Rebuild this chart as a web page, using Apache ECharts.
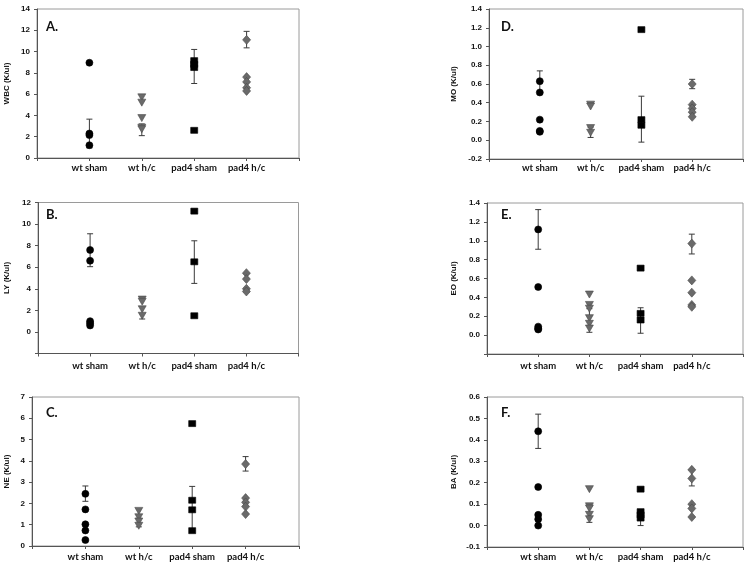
<!DOCTYPE html>
<html><head><meta charset="utf-8">
<script src="https://cdn.jsdelivr.net/npm/echarts@6/dist/echarts.min.js"></script>
<style>html,body{margin:0;padding:0;background:#fff}#c{width:750px;height:564px}</style>
</head><body><div id="c"></div>
<script>
// ---- data ----
const groups = ['wt sham', 'wt h/c', 'pad4 sham', 'pad4 h/c'];
const panelLetters = ['A.', 'B.', 'C.', 'D.', 'E.', 'F.'];
const yTitles = ['WBC (K/ul)', 'LY (K/ul)', 'NE (K/ul)', 'MO (K/ul)', 'EO (K/ul)', 'BA (K/ul)'];

const WBC = [[8.95, 2.3, 2.15, 1.2], [5.7, 5.2, 3.75, 2.85, 2.7], [9.15, 8.8, 8.5, 2.6], [11.1, 7.6, 7.15, 6.6, 6.3]];
const WBC_err = [[0.95, 3.65], [2.1, 3.2], [7.0, 10.2], [10.35, 11.9]];

const LY = [[7.6, 6.6, 1.0, 0.8, 0.6], [3.0, 2.8, 2.1, 1.5], [11.2, 6.5, 1.5], [5.45, 4.9, 4.0, 3.75]];
const LY_err = [[6.05, 9.1], [1.2, 1.7], [4.5, 8.45], [3.7, 4.0]];

const NE = [[2.45, 1.72, 1.02, 0.73, 0.28], [1.65, 1.35, 1.15, 0.95], [5.75, 2.15, 1.7, 0.72], [3.85, 2.25, 2.05, 1.85, 1.5]];
const NE_err = [[2.1, 2.82], [0.9, 1.3], [0.72, 2.8], [3.52, 4.2]];

const MO = [[0.63, 0.51, 0.22, 0.1, 0.09], [0.38, 0.36, 0.13, 0.08], [1.18, 0.22, 0.16], [0.6, 0.38, 0.34, 0.3, 0.25]];
const MO_err = [[0.52, 0.74], [0.03, 0.14], [-0.02, 0.47], [0.55, 0.65]];

const EO = [[1.12, 0.51, 0.09, 0.07, 0.06], [0.43, 0.32, 0.28, 0.18, 0.12, 0.07], [0.71, 0.23, 0.16], [0.97, 0.58, 0.45, 0.32, 0.3]];
const EO_err = [[0.91, 1.33], [0.03, 0.28], [0.02, 0.29], [0.86, 1.07]];

const BA = [[0.44, 0.18, 0.05, 0.03, 0.0], [0.17, 0.09, 0.08, 0.05, 0.03], [0.17, 0.065, 0.05, 0.035], [0.26, 0.22, 0.1, 0.08, 0.04]];
const BA_err = [[0.36, 0.52], [0.015, 0.09], [0.0, 0.06], [0.185, 0.26]];

// y-axis ranges [min, max, interval, hiddenMinLabel, decimals]
const yRanges = [[0, 14, 2, false, 0], [-2, 12, 2, true, 0], [0, 7, 1, false, 0],
                 [-0.2, 1.4, 0.2, false, 1], [-0.2, 1.4, 0.2, true, 1], [-0.1, 0.6, 0.1, false, 1]];

const panelValues = [WBC, LY, NE, MO, EO, BA];
const panelErrors = [WBC_err, LY_err, NE_err, MO_err, EO_err, BA_err];

// ---- layout / style (not data) ----
const grids = [
  {left: 37, top: 9, width: 262, height: 149},
  {left: 38, top: 202.5, width: 260.5, height: 151},
  {left: 32, top: 397, width: 267, height: 149},
  {left: 489, top: 9, width: 254, height: 150},
  {left: 487, top: 203, width: 256, height: 151},
  {left: 487, top: 397, width: 256, height: 150}
];
const letterPos = [[46, 20], [46, 208], [46, 406.5], [501, 20], [501, 208], [501, 406.5]];
const xLabelMargin = [4.5, 7, 5.5, 4, 7, 5];
const nameGaps = [26, 27, 21, 31, 29, 29];
const GRAY = '#6a6a6a';
const symbolStyles = [
  {symbol: 'circle', size: 7, rotate: 0, color: '#000'},
  {symbol: 'triangle', size: [8, 7], rotate: 180, color: GRAY},
  {symbol: 'rect', size: [7, 6], rotate: 0, color: '#000'},
  {symbol: 'diamond', size: [8, 9], rotate: 0, color: GRAY}
];
const xCats = [''].concat(groups, ['']);

const option = {
  animation: false,
  backgroundColor: '#fff',
  grid: [], xAxis: [], yAxis: [], series: [], title: []
};

grids.forEach((g, i) => {
  option.grid.push(Object.assign({show: true, borderColor: '#9a9a9a', borderWidth: 1, backgroundColor: 'transparent'}, g));
  option.title.push({
    text: panelLetters[i], left: letterPos[i][0], top: letterPos[i][1], padding: 0,
    textStyle: {fontFamily: 'Lato', fontWeight: 'bold', fontSize: 13, color: '#111'}
  });
  option.xAxis.push({
    type: 'category', gridIndex: i, data: xCats, boundaryGap: false,
    axisLine: {onZero: false, lineStyle: {color: '#555', width: 1}},
    axisTick: {show: true, length: 3, lineStyle: {color: '#555'}},
    axisLabel: {show: true, interval: 0, margin: xLabelMargin[i], fontFamily: 'Lato', fontWeight: 'bold', fontSize: 9.5, color: '#111'},
    splitLine: {show: false}
  });
  const r = yRanges[i];
  option.yAxis.push({
    type: 'value', gridIndex: i, min: r[0], max: r[1], interval: r[2],
    name: yTitles[i], nameLocation: 'middle', nameGap: nameGaps[i],
    nameTextStyle: {fontFamily: 'Liberation Sans', fontWeight: 'bold', fontSize: 8, color: '#111'},
    axisLine: {show: true, onZero: false, lineStyle: {color: '#555', width: 1}},
    axisTick: {show: true, length: 3, lineStyle: {color: '#555'}},
    axisLabel: {
      margin: 7, fontFamily: 'Liberation Sans', fontWeight: 'bold', fontSize: 8, color: '#111',
      formatter: v => (r[3] && Math.abs(v - r[0]) < 1e-9) ? '' : Number(v).toFixed(r[4])
    },
    splitLine: {show: false}
  });
  // error bars
  option.series.push({
    type: 'custom', xAxisIndex: i, yAxisIndex: i, z: 1,
    data: panelErrors[i].map((e, k) => [groups[k], e[0], e[1]]),
    encode: {x: 0, y: [1, 2]},
    renderItem: function (params, api) {
      const xi = api.value(0);
      const lo = api.coord([xi, api.value(1)]);
      const hi = api.coord([xi, api.value(2)]);
      const w = 3;
      const st = {stroke: '#3a3a3a', lineWidth: 1};
      return {type: 'group', children: [
        {type: 'line', shape: {x1: lo[0], y1: lo[1], x2: hi[0], y2: hi[1]}, style: st},
        {type: 'line', shape: {x1: lo[0] - w, y1: lo[1], x2: lo[0] + w, y2: lo[1]}, style: st},
        {type: 'line', shape: {x1: hi[0] - w, y1: hi[1], x2: hi[0] + w, y2: hi[1]}, style: st}
      ]};
    }
  });
  panelValues[i].forEach((vals, k) => {
    const s = symbolStyles[k];
    option.series.push({
      type: 'scatter', xAxisIndex: i, yAxisIndex: i, z: 3,
      symbol: s.symbol, symbolSize: s.size, symbolRotate: s.rotate,
      itemStyle: {color: s.color, borderColor: k % 2 ? '#4a4a4a' : '#000', borderWidth: 0.6, opacity: 1},
      data: vals.map(v => [groups[k], v])
    });
  });
});

const chart = echarts.init(document.getElementById('c'), null, {renderer: 'canvas'});
chart.setOption(option);
</script>
</body></html>
